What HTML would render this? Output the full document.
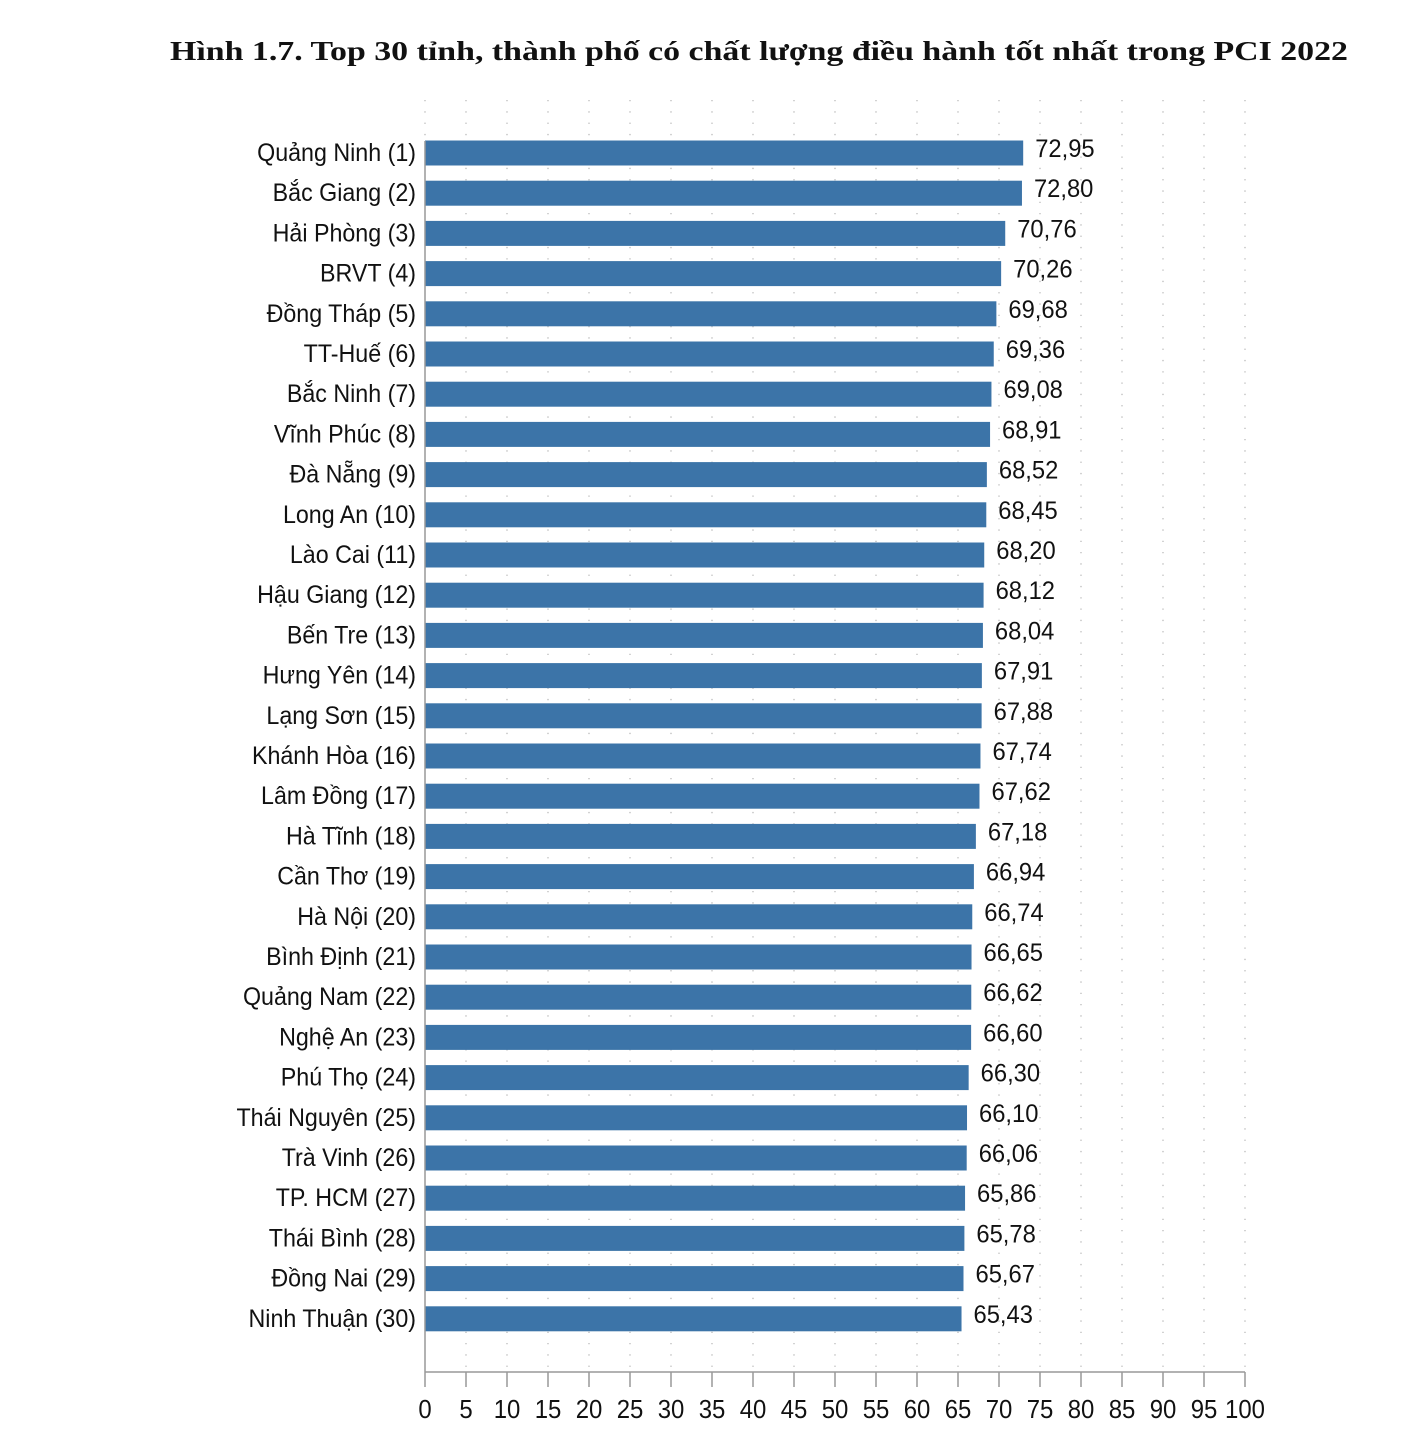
<!DOCTYPE html>
<html><head><meta charset="utf-8"><style>
html,body{margin:0;padding:0;background:#fff}
svg{display:block}
text{font-family:"Liberation Sans",sans-serif;fill:#111}
</style></head><body>
<svg id="s" width="1416" height="1435" viewBox="0 0 1416 1435" xmlns="http://www.w3.org/2000/svg">
<text x="170" y="60" font-weight="bold" font-size="27" textLength="1178" lengthAdjust="spacingAndGlyphs" style="font-family:'Liberation Serif',serif">Hình 1.7. Top 30 tỉnh, thành phố có chất lượng điều hành tốt nhất trong PCI 2022</text>
<g id="grid"></g>
<g id="bars"></g>
<line x1="425" y1="141" x2="425" y2="1372" stroke="#999" stroke-width="1.5"/>
<line x1="425" y1="1372" x2="1245" y2="1372" stroke="#999" stroke-width="1.5"/>
<g id="ticks"></g>
</svg>
<script>
const data=[["Quảng Ninh (1)",72.95],["Bắc Giang (2)",72.80],["Hải Phòng (3)",70.76],["BRVT (4)",70.26],["Đồng Tháp (5)",69.68],["TT-Huế (6)",69.36],["Bắc Ninh (7)",69.08],["Vĩnh Phúc (8)",68.91],["Đà Nẵng (9)",68.52],["Long An (10)",68.45],["Lào Cai (11)",68.20],["Hậu Giang (12)",68.12],["Bến Tre (13)",68.04],["Hưng Yên (14)",67.91],["Lạng Sơn (15)",67.88],["Khánh Hòa (16)",67.74],["Lâm Đồng (17)",67.62],["Hà Tĩnh (18)",67.18],["Cần Thơ (19)",66.94],["Hà Nội (20)",66.74],["Bình Định (21)",66.65],["Quảng Nam (22)",66.62],["Nghệ An (23)",66.60],["Phú Thọ (24)",66.30],["Thái Nguyên (25)",66.10],["Trà Vinh (26)",66.06],["TP. HCM (27)",65.86],["Thái Bình (28)",65.78],["Đồng Nai (29)",65.67],["Ninh Thuận (30)",65.43]];
const k=8.2,x0=425;let g='',b='',t='';
for(let v=0;v<=100;v+=5){const x=x0+v*k;if(v>0)g+=`<line x1="${x}" y1="100" x2="${x}" y2="1372" stroke="#bbb" stroke-width="1.3" stroke-dasharray="1.3 10"/>`;else g+=`<line x1="${x}" y1="100" x2="${x}" y2="141" stroke="#bbb" stroke-width="1.3" stroke-dasharray="1.3 10"/>`;}
for(let v=0;v<=100;v+=5){const x=x0+v*k;t+=`<line x1="${x}" y1="1372" x2="${x}" y2="1387" stroke="#999" stroke-width="1.5"/><text transform="translate(${x},1418) scale(0.92,1)" text-anchor="middle" font-size="26">${v}</text>`;}
data.forEach((d,i)=>{const c=153+i*40.2,w=d[1]*k;
b+=`<rect x="${x0}" y="${c-12.5}" width="${w}" height="25" fill="#3c74a8"/>`;
b+=`<text transform="translate(416,${c+8}) scale(0.93,1)" text-anchor="end" font-size="25">${d[0]}</text>`;
b+=`<text transform="translate(${x0+w+12},${c+4}) scale(0.95,1)" font-size="25">${d[1].toFixed(2).replace('.',',')}</text>`;});
document.getElementById('grid').innerHTML=g;document.getElementById('bars').innerHTML=b;document.getElementById('ticks').innerHTML=t;
</script>
</body></html>
